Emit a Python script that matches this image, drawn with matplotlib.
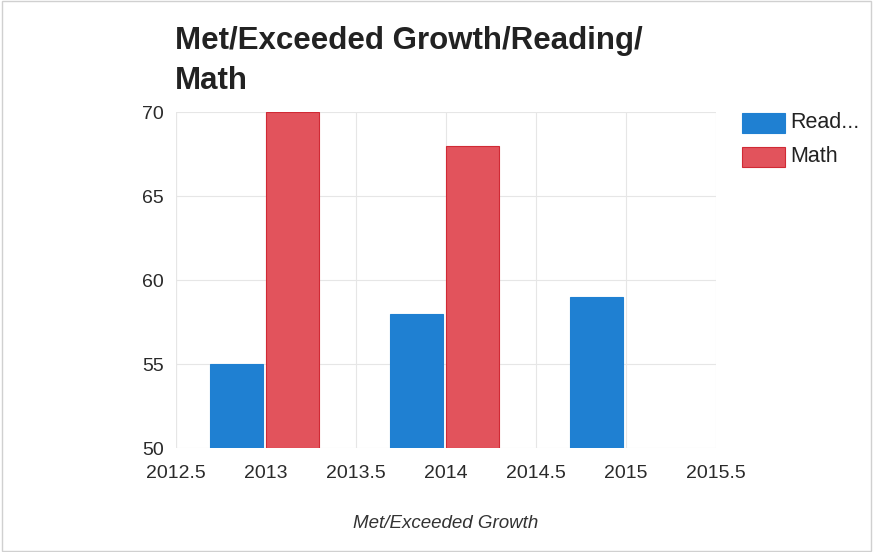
import matplotlib
matplotlib.use("Agg")
import matplotlib.pyplot as plt
from matplotlib.patches import Rectangle
import numpy as np

plt.rcParams["font.family"] = ["Liberation Sans", "DejaVu Sans"]

years = [2013, 2014, 2015]
reading = [55, 58, 59]
math_vals = [70, 68, None]
series_names = ["Read...", "Math"]
blue = "#1f80d2"
red = "#e2535c"

fig = plt.figure(figsize=(8.73, 5.52), dpi=100)
ax = fig.add_axes([0.2016, 0.188, 0.6186, 0.609])

w = 0.295
for yr, r, m in zip(years, reading, math_vals):
    ax.bar(yr - 0.165, r - 50, bottom=50, width=w, color=blue, edgecolor=blue, linewidth=0.8, zorder=3)
    if m is not None:
        ax.bar(yr + 0.145, m - 50, bottom=50, width=w, color=red, edgecolor="#d02a35", linewidth=0.8, zorder=3)

ax.set_xlim(2012.5, 2015.5)
ax.set_ylim(50, 70)
ax.set_xticks(np.arange(2012.5, 2015.51, 0.5))
ax.set_xticklabels(["2012.5", "2013", "2013.5", "2014", "2014.5", "2015", "2015.5"])
ax.set_yticks([50, 55, 60, 65, 70])
ax.grid(True, color="#e6e6e6", linewidth=0.8, zorder=0)
for s in ax.spines.values():
    s.set_visible(False)
ax.axvline(2012.5, color="#dddddd", linewidth=0.8, zorder=1)
ax.tick_params(length=0, labelsize=14, colors="#2a2a2a")
ax.tick_params(axis="x", pad=12)
ax.tick_params(axis="y", pad=9)
ax.set_xlabel("Met/Exceeded Growth", fontsize=13.5, style="italic", color="#333333", labelpad=24)

fig.text(0.2, 0.912, "Met/Exceeded Growth/Reading/", fontsize=22.5, fontweight="bold", color="#222222", va="baseline")
fig.text(0.2, 0.838, "Math", fontsize=22.5, fontweight="bold", color="#222222", va="baseline")

# legend outside the plot on the right
for i, (name, col, ec) in enumerate(zip(series_names, [blue, red], [blue, "#d02a35"])):
    y0 = 1 - (133 + i * 34) / 552
    fig.patches.append(Rectangle((742 / 873, y0), 43 / 873, 20 / 552, transform=fig.transFigure,
                                 facecolor=col, edgecolor=ec, linewidth=0.8))
    fig.text(790 / 873, y0 + 10 / 552, name, fontsize=15.5, color="#222222", va="center")

# light outer frame
fig.patches.append(Rectangle((0.002, 0.002), 0.996, 0.996, transform=fig.transFigure,
                             facecolor="none", edgecolor="#d0d0d0", linewidth=1))

fig.savefig("out.png", dpi=100)
